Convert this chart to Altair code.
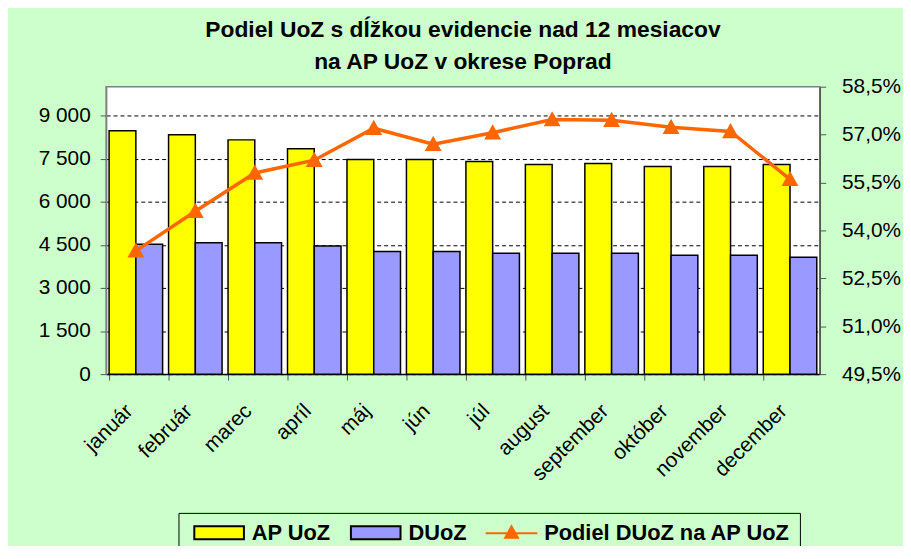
import altair as alt
import pandas as pd

# ---- data ----
months = ["január", "február", "marec", "apríl", "máj", "jún",
          "júl", "august", "september", "október", "november", "december"]
ap_uoz = [8470, 8330, 8150, 7840, 7470, 7470, 7400, 7290, 7330, 7220, 7220, 7290]
duoz = [4517, 4575, 4575, 4460, 4265, 4265, 4207, 4207, 4207, 4138, 4138, 4069]
podiel = [53.36, 54.6, 55.8, 56.2, 57.2, 56.7, 57.06, 57.47, 57.45, 57.23, 57.1, 55.6]

S1 = "AP UoZ"
S2 = "DUoZ"
S3 = "Podiel DUoZ na AP UoZ"
series_names = [S1, S2, S3]
fill_colors = ["#FFFF00", "#9999FF", "#FF6600"]
stroke_colors = ["black", "black", "#FF6600"]

left_ticks = [0, 1500, 3000, 4500, 6000, 7500, 9000]
right_ticks = [49.5, 51.0, 52.5, 54.0, 55.5, 57.0, 58.5]

title_lines = ["Podiel UoZ s dĺžkou evidencie nad 12 mesiacov",
               "na AP UoZ v okrese Poprad"]

bars_df = pd.DataFrame({
    "mesiac": months * 2,
    "séria": [S1] * len(months) + [S2] * len(months),
    "hodnota": ap_uoz + duoz,
})
line_df = pd.DataFrame({
    "mesiac": months,
    "séria": [S3] * len(months),
    "podiel": podiel,
})

FONT = "Liberation Sans"
# symbol shapes (unit coordinates): box for bars, line with triangle for the line
RECT_PATH = "M-3.85,-1H3.85V1H-3.85Z"
LINE_PATH = "M-4,0.1H4M-1,0.8L0,-1L1,0.8Z"
shape_range = [RECT_PATH, RECT_PATH, LINE_PATH]

fill_scale = alt.Scale(domain=series_names, range=fill_colors)
stroke_scale = alt.Scale(domain=series_names, range=stroke_colors)
shape_scale = alt.Scale(domain=series_names, range=shape_range)

legend = alt.Legend(
    title=None, orient="none", legendX=73, legendY=430,
    direction="horizontal", symbolSize=169, symbolStrokeWidth=2,
    symbolOffset=21, labelOffset=22, columnPadding=13, labelLimit=500,
    labelFont=FONT, labelFontSize=22, labelFontWeight="bold",
    labelColor="black", padding=9, strokeColor="black",
    fillColor="#CCFFCC", cornerRadius=0)

x_enc = alt.X(
    "mesiac:N", sort=months,
    scale=alt.Scale(paddingInner=0.1, paddingOuter=0.05),
    axis=alt.Axis(title=None, labelAngle=315, labelAlign="right",
                  labelBaseline="top", bandPosition=0, labelOffset=-14,
                  labelPadding=20, tickSize=6, tickColor="#555555",
                  domainColor="black", domainWidth=1.5, grid=False,
                  labelFont=FONT, labelFontSize=21, labelColor="black"))

y_left = alt.Y(
    "hodnota:Q",
    scale=alt.Scale(domain=[0, 10000], nice=False),
    axis=alt.Axis(title=None, orient="left", values=left_ticks,
                  grid=True, gridColor="black", gridDash=[4, 3],
                  gridWidth=1, tickSize=6, tickColor="#555555",
                  domainColor="#808080", domainWidth=1.5,
                  labelPadding=10, labelFont=FONT, labelFontSize=21,
                  labelColor="black",
                  labelExpr="replace(format(datum.value, ',d'), ',', ' ')"))

y_right = alt.Y(
    "podiel:Q",
    scale=alt.Scale(domain=[49.5, 58.5], nice=False, zero=False),
    axis=alt.Axis(title=None, orient="right", values=right_ticks,
                  grid=False, tickSize=6, tickColor="#555555",
                  domainColor="#555555", domainWidth=1.5,
                  labelPadding=16, labelFont=FONT, labelFontSize=21,
                  labelColor="black",
                  labelExpr="replace(format(datum.value, '.1f'), '.', ',') + '%'"))

bars = alt.Chart(bars_df).mark_bar(strokeWidth=1.5).encode(
    x=x_enc,
    xOffset=alt.XOffset("séria:N", sort=[S1, S2],
                        scale=alt.Scale(domain=[S1, S2], paddingInner=0, paddingOuter=0)),
    y=y_left,
    fill=alt.Fill("séria:N", scale=fill_scale, legend=legend),
    stroke=alt.Stroke("séria:N", scale=stroke_scale, legend=legend),
)

line = alt.Chart(line_df).mark_line(strokeWidth=3.5).encode(
    x=x_enc,
    y=y_right,
    stroke=alt.Stroke("séria:N", scale=stroke_scale, legend=legend),
)

points = alt.Chart(line_df).mark_point(filled=True, size=289, opacity=1).encode(
    x=x_enc,
    y=y_right,
    fill=alt.Fill("séria:N", scale=fill_scale, legend=legend),
    shape=alt.Shape("séria:N", scale=shape_scale, legend=legend),
)

right_layer = alt.layer(line, points)

chart = alt.layer(bars, right_layer).resolve_scale(y="independent").properties(
    width=720, height=290,
    autosize=alt.AutoSizeParams(type="none"),
    padding={"left": 99, "top": 77, "right": 84, "bottom": 171},
    title=alt.TitleParams(text=title_lines, font=FONT, fontSize=23,
                          fontWeight="bold", color="black", anchor="middle",
                          lineHeight=32, offset=2),
).configure(background="#CCFFCC").configure_view(
    fill="white", stroke="#808080", strokeWidth=1.5)

chart.save("out.html", embed_options={"renderer": "svg", "actions": False})
